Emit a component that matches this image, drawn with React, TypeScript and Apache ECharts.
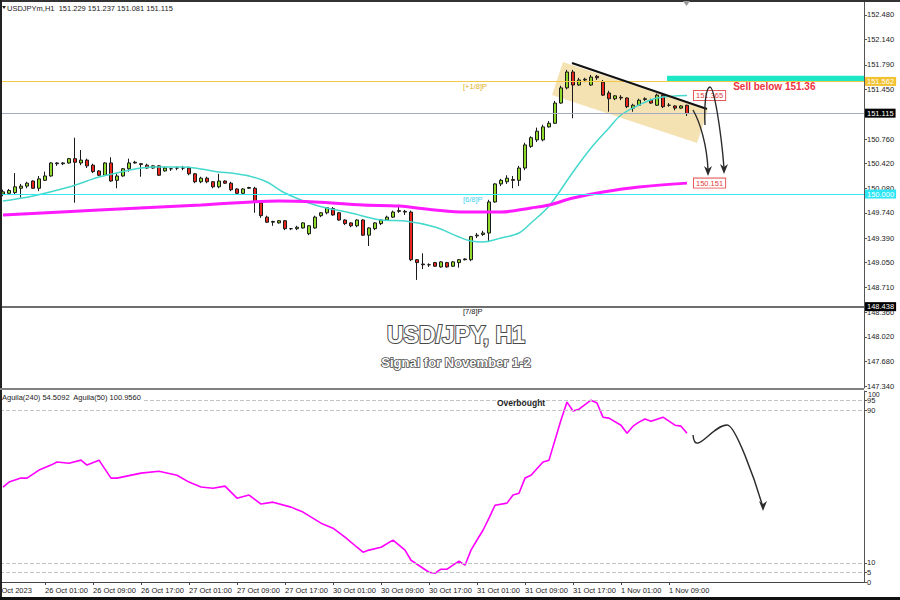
import React, { useEffect, useRef } from "react";
import * as echarts from "echarts";

// [open, close, low, high] per H1 bar, 25 Oct 18:00 .. 1 Nov 12:00
const CANDLES: number[][] = [
  [150.0, 150.03, 149.97, 150.06], [150.01, 150.05, 149.99, 150.07], [150.02, 150.1, 149.99, 150.29],
  [150.08, 150.11, 149.95, 150.14], [150.11, 150.15, 150.08, 150.17], [150.18, 150.08, 150.07, 150.19],
  [150.08, 150.21, 150.04, 150.25], [150.19, 150.25, 150.18, 150.31], [150.25, 150.43, 150.24, 150.44],
  [150.43, 150.42, 150.39, 150.44], [150.42, 150.43, 150.4, 150.44], [150.43, 150.49, 150.42, 150.5],
  [150.49, 150.44, 149.88, 150.78], [150.43, 150.47, 150.4, 150.61], [150.47, 150.39, 150.36, 150.49],
  [150.4, 150.31, 150.29, 150.42], [150.32, 150.26, 150.25, 150.33], [150.26, 150.43, 150.25, 150.44],
  [150.43, 150.18, 150.17, 150.51], [150.19, 150.25, 150.08, 150.29], [150.25, 150.35, 150.24, 150.36],
  [150.35, 150.43, 150.31, 150.49], [150.44, 150.43, 150.42, 150.46], [150.42, 150.41, 150.24, 150.43],
  [150.4, 150.36, 150.35, 150.42], [150.36, 150.39, 150.35, 150.4], [150.39, 150.26, 150.25, 150.4],
  [150.32, 150.36, 150.31, 150.38], [150.35, 150.35, 150.32, 150.36], [150.36, 150.36, 150.33, 150.38],
  [150.36, 150.36, 150.33, 150.39], [150.36, 150.28, 150.26, 150.38], [150.28, 150.17, 150.15, 150.29],
  [150.17, 150.22, 150.15, 150.24], [150.22, 150.17, 150.15, 150.24], [150.17, 150.1, 150.08, 150.18],
  [150.1, 150.18, 150.08, 150.28], [150.18, 150.15, 150.14, 150.19], [150.15, 150.06, 150.04, 150.17],
  [150.07, 150.01, 149.99, 150.08], [150.01, 150.07, 150.0, 150.08], [150.08, 150.09, 150.07, 150.1],
  [150.08, 149.89, 149.74, 150.1], [149.88, 149.7, 149.67, 149.89], [149.68, 149.61, 149.6, 149.7],
  [149.61, 149.62, 149.56, 149.63], [149.6, 149.63, 149.59, 149.64], [149.63, 149.52, 149.5, 149.64],
  [149.52, 149.52, 149.5, 149.53], [149.52, 149.54, 149.5, 149.56], [149.53, 149.6, 149.52, 149.61],
  [149.45, 149.56, 149.43, 149.57], [149.53, 149.68, 149.52, 149.7], [149.7, 149.74, 149.68, 149.75],
  [149.74, 149.81, 149.72, 149.82], [149.8, 149.71, 149.7, 149.82], [149.74, 149.64, 149.63, 149.75],
  [149.64, 149.59, 149.57, 149.65], [149.6, 149.56, 149.54, 149.61], [149.56, 149.64, 149.54, 149.65],
  [149.64, 149.43, 149.42, 149.65], [149.43, 149.53, 149.28, 149.54], [149.52, 149.6, 149.5, 149.61],
  [149.59, 149.64, 149.57, 149.65], [149.64, 149.68, 149.63, 149.7], [149.68, 149.75, 149.67, 149.77],
  [149.76, 149.77, 149.74, 149.85], [149.76, 149.75, 149.71, 149.78], [149.75, 149.09, 149.07, 149.77],
  [149.09, 149.05, 148.81, 149.1], [149.03, 149.02, 148.96, 149.18], [149.02, 149.02, 148.99, 149.04],
  [149.05, 149.0, 148.99, 149.06], [148.99, 149.06, 148.98, 149.07], [149.05, 148.99, 148.98, 149.06],
  [149.0, 149.06, 148.99, 149.07], [149.05, 149.09, 148.98, 149.1], [149.09, 149.1, 149.08, 149.11],
  [149.09, 149.41, 149.07, 149.42], [149.42, 149.43, 149.39, 149.46], [149.44, 149.46, 149.42, 149.49],
  [149.46, 149.89, 149.34, 149.92], [149.89, 150.14, 149.88, 150.15], [150.14, 150.19, 150.11, 150.21],
  [150.17, 150.22, 150.14, 150.26], [150.2, 150.19, 150.08, 150.25], [150.19, 150.36, 150.11, 150.39],
  [150.36, 150.68, 150.33, 150.71], [150.66, 150.78, 150.64, 150.8], [150.75, 150.87, 150.72, 150.92],
  [150.75, 150.93, 150.73, 150.96], [150.93, 150.98, 150.92, 151.01], [150.98, 151.26, 150.97, 151.29],
  [151.26, 151.47, 151.25, 151.5], [151.47, 151.69, 151.45, 151.72], [151.69, 151.51, 151.05, 151.72],
  [151.51, 151.58, 151.5, 151.61], [151.58, 151.59, 151.55, 151.61], [151.51, 151.62, 151.5, 151.65],
  [151.63, 151.61, 151.58, 151.65], [151.55, 151.37, 151.36, 151.58], [151.4, 151.32, 151.14, 151.43],
  [151.32, 151.36, 151.3, 151.37], [151.34, 151.33, 151.3, 151.37], [151.33, 151.21, 151.19, 151.34],
  [151.19, 151.23, 151.14, 151.25], [151.23, 151.3, 151.22, 151.32], [151.31, 151.32, 151.29, 151.34],
  [151.3, 151.26, 151.25, 151.32], [151.23, 151.37, 151.22, 151.39], [151.37, 151.21, 151.19, 151.39],
  [151.23, 151.23, 151.21, 151.26], [151.22, 151.19, 151.16, 151.23], [151.19, 151.22, 151.18, 151.23],
  [151.229, 151.115, 151.081, 151.237],
];

// moving averages read at bar indices: [barIndex, price]
const MA_FAST: number[][] = [
  [0, 149.903], [5, 149.973], [11, 150.097], [14, 150.181], [16, 150.236], [19, 150.292], [22, 150.347],
  [25, 150.375], [30, 150.375], [33, 150.347], [36, 150.305], [38, 150.292], [41, 150.25], [44, 150.167],
  [47, 150.014], [52, 149.848], [58, 149.737], [63, 149.64], [67, 149.627], [72, 149.543], [76, 149.405],
  [78, 149.349], [80, 149.335], [83, 149.391], [86, 149.46], [88, 149.599], [91, 149.834], [95, 150.305],
  [98, 150.638], [101, 150.915], [103, 151.095], [106, 151.233], [109, 151.33], [114, 151.365],
];
const MA_SLOW: number[][] = [
  [0, 149.71], [16, 149.779], [33, 149.848], [46, 149.903], [52, 149.89], [60, 149.848], [66, 149.834],
  [72, 149.779], [77, 149.751], [83, 149.751], [88, 149.807], [91, 149.848], [95, 149.945], [100, 150.028],
  [106, 150.098], [114, 150.151],
];

// oscillator (Aguila) read at bar indices: [barIndex, value]
const OSC: number[][] = [
  [0, 49.7], [1, 52.3], [3, 54.4], [4, 54.4], [6, 58.6], [8, 61.2], [9, 62.8], [11, 62.2], [13, 63.8],
  [14, 61.2], [16, 63.8], [18, 54.4], [19, 54.4], [23, 57.0], [26, 58.0], [29, 55.9], [31, 52.3], [33, 49.7],
  [35, 49.1], [37, 50.2], [39, 43.9], [41, 45.5], [43, 40.8], [45, 41.8], [48, 39.2], [50, 36.6], [53, 30.8],
  [55, 28.2], [57, 23.5], [59, 18.2], [60, 15.6], [61, 16.7], [63, 18.2], [65, 21.9], [67, 16.7], [68, 11.4],
  [71, 5.1], [72, 4.6], [73, 6.7], [74, 6.7], [76, 10.9], [77, 8.8], [78, 16.7], [79, 22.0], [80, 27.1],
  [81, 33.4], [82, 40.2], [84, 41.3], [85, 45.5], [86, 46.5], [87, 54.4], [88, 55.9], [90, 62.8], [91, 63.8],
  [92, 74.3], [93, 84.8], [94, 94.2], [95, 89.5], [96, 90.5], [98, 95.2], [99, 93.7], [100, 86.3], [101, 85.8],
  [103, 82.1], [104, 77.9], [105, 81.6], [106, 83.7], [107, 85.3], [108, 84.2], [110, 86.3], [112, 82.1],
  [113, 81.6], [114, 77.9],
];

const PRICE_TICKS = [152.48, 152.14, 151.79, 151.45, 151.11, 150.76, 150.42, 150.08, 149.74, 149.39, 149.05, 148.71, 148.36, 148.02, 147.68, 147.34];
const OSC_TICKS = [100, 95, 90, 10, 5, 0];
const OSC_LABELS = [95, 90, 10, 5, 0];
const OSC_TOP_LABEL = "100";
const OSC_LEVELS = [95, 90, 10, 5];
const TICK_INDEX = [7, 15, 23, 31, 39, 47, 55, 63, 71, 79, 87, 95, 103, 111];
const TICK_LABELS = [
  "26 Oct 01:00", "26 Oct 09:00", "26 Oct 17:00", "27 Oct 01:00", "27 Oct 09:00", "27 Oct 17:00",
  "30 Oct 01:00", "30 Oct 09:00", "30 Oct 17:00", "31 Oct 01:00", "31 Oct 09:00", "31 Oct 17:00",
  "1 Nov 01:00", "1 Nov 09:00",
];
const FIRST_LABEL = "25 Oct 2023";
const BAR_SLOTS = 144;

const LEVEL_PRICES = [151.562, 150.0, 148.438];
const LEVEL_NAMES = ["[+1/8]P", "[6/8]P", "[7/8]P"];
const LEVEL_COLORS = ["#f2c84b", "#35e8f2", "#6e6e6e"];
const LEVEL_LABEL_BG = ["#f2c230", "#2fe6f4", "#000000"];
const LEVEL_NAME_COLORS = ["#e0b020", "#3fd0f0", "#222222"];
const BID = 151.115;
const LAST = { o: "151.229", h: "151.237", l: "151.081", c: "151.115" };

// annotations in (barIndex, price)
const CHANNEL: number[][] = [[93.33, 151.829], [117.5, 151.164], [115.67, 150.707], [91.5, 151.372]];
const TREND: number[][] = [[94.83, 151.815], [117.33, 151.178]];
const SELL_ZONE = { from: 110.67, top: 151.64, bottom: 151.565 };
const SELL_TEXT = "Sell below 151.36";

const FONT = "Liberation Sans, Arial, sans-serif";

export default function App() {
  const ref = useRef<HTMLDivElement>(null);
  useEffect(() => {
    const chart = echarts.init(ref.current!, null, { renderer: "svg" });
    const cats = Array.from({ length: BAR_SLOTS }, (_, i) => {
      const k = TICK_INDEX.indexOf(i);
      return k >= 0 ? TICK_LABELS[k] : "";
    });
    const isTick = (i: number) => TICK_INDEX.indexOf(i) >= 0;
    const small = { fontSize: 7.5, fontFamily: FONT, color: "#222" };

    const option: any = {
      animation: false,
      backgroundColor: "#ffffff",
      grid: [
        { left: 0, top: 2, width: 864, height: 386 },
        { left: 0, top: 391, width: 864, height: 191 },
      ],
      xAxis: [
        { type: "category", gridIndex: 0, data: cats, boundaryGap: true, show: false },
        {
          type: "category", gridIndex: 1, data: cats, boundaryGap: true,
          axisLine: { show: true, lineStyle: { color: "#444", width: 1 } },
          axisTick: { show: true, interval: (i: number) => isTick(i), alignWithLabel: true, length: 3, lineStyle: { color: "#444" } },
          axisLabel: { ...small, interval: (i: number) => isTick(i), align: "left", margin: 4 },
          splitLine: { show: false },
        },
      ],
      yAxis: [
        {
          type: "value", gridIndex: 0, position: "right", min: 147.313, max: 152.66,
          axisLine: { show: true, lineStyle: { color: "#555" } },
          axisTick: { show: true, length: 3, customValues: PRICE_TICKS, lineStyle: { color: "#555" } },
          axisLabel: { ...small, margin: 3, customValues: PRICE_TICKS, formatter: (v: number) => v.toFixed(3) },
          splitLine: { show: false },
        },
        {
          type: "value", gridIndex: 1, position: "right", min: 0, max: 100,
          axisLine: { show: true, lineStyle: { color: "#555" } },
          axisTick: { show: true, length: 3, customValues: OSC_TICKS, lineStyle: { color: "#555" } },
          axisLabel: { ...small, margin: 3, customValues: OSC_LABELS },
          splitLine: { show: false },
        },
      ],
      series: [
        {
          type: "line", name: "MA fast", xAxisIndex: 0, yAxisIndex: 0, data: MA_FAST,
          showSymbol: false, smooth: 0.35, lineStyle: { color: "#45d8cc", width: 1.5 }, silent: true,
        },
        {
          type: "line", name: "MA slow", xAxisIndex: 0, yAxisIndex: 0, data: MA_SLOW,
          showSymbol: false, smooth: 0.35, lineStyle: { color: "#ff1aff", width: 3 }, silent: true,
        },
        {
          type: "candlestick", name: "USDJPYm,H1", xAxisIndex: 0, yAxisIndex: 0, data: CANDLES,
          barWidth: 4,
          itemStyle: { color: "#8fd92b", color0: "#e8261e", borderColor: "#1a1a1a", borderColor0: "#1a1a1a", borderWidth: 1 },
          markLine: {
            silent: true, symbol: ["none", "none"], animation: false,
            label: { position: "end", distance: 1, fontSize: 7.5, fontFamily: FONT, color: "#fff", padding: [1, 2, 0, 2] },
            data: [
              ...LEVEL_PRICES.map((p, k) => ({
                yAxis: p,
                lineStyle: { color: LEVEL_COLORS[k], width: k === 2 ? 2 : 1, type: "solid" },
                label: { formatter: p.toFixed(3), backgroundColor: LEVEL_LABEL_BG[k] },
              })),
              {
                yAxis: BID,
                lineStyle: { color: "#a3acc2", width: 1, type: "solid" },
                label: { formatter: BID.toFixed(3), backgroundColor: "#000" },
              },
            ],
          },
        },
        {
          type: "line", name: "Aguila", xAxisIndex: 1, yAxisIndex: 1, data: OSC,
          showSymbol: false, lineStyle: { color: "#ff00ff", width: 1.6 }, silent: true,
          markLine: {
            silent: true, symbol: ["none", "none"], label: { show: false },
            lineStyle: { color: "#c4c4c4", type: "dashed", width: 1 },
            data: OSC_LEVELS.map((v) => ({ yAxis: v })),
          },
        },
      ],
    };
    chart.setOption(option);

    const at = (i: number, p: number): number[] => {
      const i0 = Math.floor(i);
      const a = chart.convertToPixel({ gridIndex: 0 }, [i0, p]) as number[];
      const b = chart.convertToPixel({ gridIndex: 0 }, [i0 + 1, p]) as number[];
      return [a[0] + (i - i0) * (b[0] - a[0]), a[1]];
    };

    const dark = "#2b2b2b";
    const g: any[] = [];
    // frame
    g.push({ type: "line", z: 20, shape: { x1: 0, y1: 1, x2: 900, y2: 1 }, style: { stroke: "#333", lineWidth: 2 } });
    g.push({ type: "line", z: 20, shape: { x1: 1, y1: 0, x2: 1, y2: 600 }, style: { stroke: "#222", lineWidth: 2 } });
    g.push({ type: "line", z: 20, shape: { x1: 0, y1: 598.5, x2: 900, y2: 598.5 }, style: { stroke: "#111", lineWidth: 3 } });
    g.push({ type: "line", z: 20, shape: { x1: 0, y1: 389, x2: 864, y2: 389 }, style: { stroke: "#808080", lineWidth: 2 } });
    g.push({ type: "polygon", z: 20, shape: { points: [[683, 1], [690, 1], [686.5, 6]] }, style: { fill: "#9a9a9a" } });

    // channel, trendline, sell zone
    g.push({ type: "polygon", z: 0, silent: true, shape: { points: CHANNEL.map(([i, p]) => at(i, p)) }, style: { fill: "rgba(236,206,128,0.6)" } });
    const t0 = at(TREND[0][0], TREND[0][1]);
    const t1 = at(TREND[1][0], TREND[1][1]);
    g.push({ type: "line", z: 10, shape: { x1: t0[0], y1: t0[1], x2: t1[0], y2: t1[1] }, style: { stroke: "#111", lineWidth: 2 } });
    const zA = at(SELL_ZONE.from, SELL_ZONE.top);
    const zB = at(SELL_ZONE.from, SELL_ZONE.bottom);
    g.push({ type: "rect", z: 5, shape: { x: zA[0], y: zA[1], width: 864 - zA[0], height: zB[1] - zA[1] }, style: { fill: "#1de8c6" } });
    const sp = at(121.7, 151.483);
    g.push({ type: "text", z: 12, x: sp[0], y: sp[1], style: { text: SELL_TEXT, fill: "#ec3340", fontSize: 10, fontWeight: "bold", fontFamily: FONT, align: "left", verticalAlign: "middle" } });

    // level names
    LEVEL_PRICES.forEach((p, k) => {
      const q = at(77, p);
      g.push({ type: "text", z: 12, x: q[0] - 2, y: q[1] + 5, style: { text: LEVEL_NAMES[k], fill: LEVEL_NAME_COLORS[k], fontSize: 7.5, fontFamily: FONT, align: "left", verticalAlign: "middle" } });
    });

    // MA end labels
    [MA_FAST[MA_FAST.length - 1], MA_SLOW[MA_SLOW.length - 1]].forEach(([i, p]) => {
      const q = at(i, p);
      g.push({ type: "text", z: 12, x: q[0] + 7, y: q[1], style: { text: p.toFixed(3), fill: "#e23b3b", fontSize: 7.5, fontFamily: FONT, align: "left", verticalAlign: "middle", backgroundColor: "#fff", borderColor: "#e65a5a", borderWidth: 1, padding: [1, 2, 0, 2] } });
    });

    // hand-drawn arrows (pixel positions)
    const curve = (x1: number, y1: number, cpx1: number, cpy1: number, cpx2: number, cpy2: number, x2: number, y2: number) => ({
      type: "bezierCurve", z: 12, shape: { x1, y1, cpx1, cpy1, cpx2, cpy2, x2, y2 }, style: { stroke: dark, lineWidth: 1.4, fill: null },
    });
    const head = (x: number, y: number) => ({
      type: "polygon", z: 12, shape: { points: [[x - 4, y - 10], [x, y - 7], [x + 4, y - 10], [x, y]] }, style: { fill: dark },
    });
    g.push(curve(693, 110, 700, 122, 707, 145, 708, 170));
    g.push(head(708, 176));
    g.push(curve(705, 125, 704, 105, 706, 87, 710, 87));
    g.push(curve(710, 87, 714, 87, 721, 130, 724, 168));
    g.push(head(724, 174));
    g.push(curve(693, 435, 695, 458, 712, 425, 727, 425));
    g.push(curve(727, 425, 735, 424, 755, 480, 762, 504));
    g.push(head(763, 511));

    // titles
    const titleStyle = { fill: "#ffffff", stroke: "#4a4a4a", lineWidth: 2, strokeFirst: true, fontFamily: FONT, fontWeight: "bold", align: "center", verticalAlign: "middle", shadowColor: "rgba(0,0,0,0.55)", shadowBlur: 3, shadowOffsetX: 2, shadowOffsetY: 2 };
    g.push({ type: "text", z: 15, x: 456, y: 335, style: { ...titleStyle, text: "USD/JPY, H1", fontSize: 23 } });
    g.push({ type: "text", z: 15, x: 456, y: 362, style: { ...titleStyle, text: "Signal for November 1-2", fontSize: 13, lineWidth: 1.6 } });

    // header & indicator captions
    g.push({ type: "polygon", z: 15, shape: { points: [[2, 6], [6, 6], [4, 9]] }, style: { fill: "#222" } });
    g.push({ type: "text", z: 15, x: 7, y: 8, style: { text: `USDJPYm,H1  ${LAST.o} ${LAST.h} ${LAST.l} ${LAST.c}`, fill: "#222", fontSize: 7.5, fontFamily: FONT, align: "left", verticalAlign: "middle" } });
    g.push({ type: "text", z: 15, x: 2, y: 397, style: { text: "Aguila(240) 54.5092  Aguila(50) 100.9560", fill: "#222", fontSize: 7.5, fontFamily: FONT, align: "left", verticalAlign: "middle", backgroundColor: "#fff", padding: [1, 2, 1, 0] } });
    g.push({ type: "text", z: 15, x: 497, y: 403, style: { text: "Overbought", fill: "#222", fontSize: 8.5, fontWeight: "bold", fontFamily: FONT, align: "left", verticalAlign: "middle" } });
    g.push({ type: "text", z: 15, x: -9, y: 590, style: { text: FIRST_LABEL, fill: "#222", fontSize: 7.5, fontFamily: FONT, align: "left", verticalAlign: "middle" } });
    g.push({ type: "text", z: 15, x: 868, y: 394.5, style: { text: OSC_TOP_LABEL, fill: "#222", fontSize: 7, fontFamily: FONT, align: "left", verticalAlign: "middle" } });

    chart.setOption({ graphic: g });
    return () => chart.dispose();
  }, []);

  return <div ref={ref} style={{ position: "fixed", left: 0, top: 0, width: 900, height: 600, background: "#fff" }} />;
}
